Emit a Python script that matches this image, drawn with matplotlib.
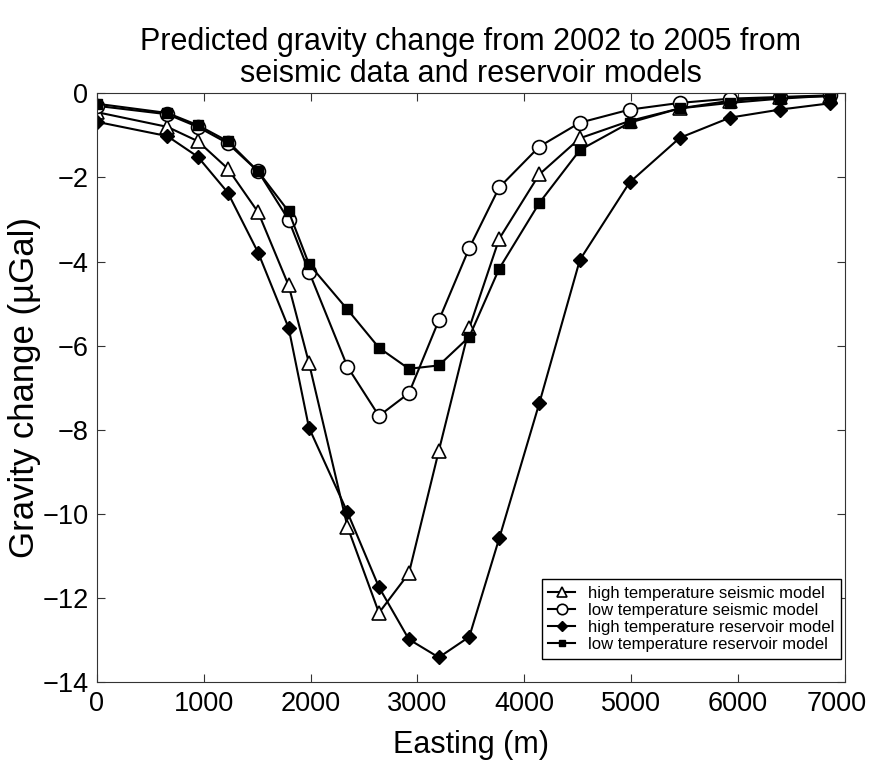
import matplotlib
matplotlib.use('Agg')
import matplotlib.pyplot as plt
from matplotlib.transforms import ScaledTranslation

plt.rcParams['font.family'] = ['Liberation Sans', 'DejaVu Sans']

# Easting des stations (m)
easting = [0, 660, 945, 1225, 1510, 1795, 1985, 2345, 2640, 2920,
           3200, 3485, 3765, 4140, 4520, 4985, 5455, 5925, 6390, 6860]

# Variation de gravité (µGal) pour chaque modèle
high_seismic = [-0.45, -0.80, -1.14, -1.79, -2.83, -4.57, -6.41, -10.30, -12.35, -11.41,
                -8.50, -5.58, -3.46, -1.93, -1.07, -0.66, -0.36, -0.18, -0.10, -0.07]
low_seismic = [-0.30, -0.50, -0.80, -1.19, -1.86, -3.01, -4.24, -6.50, -7.67, -7.13,
               -5.40, -3.68, -2.24, -1.27, -0.70, -0.39, -0.23, -0.13, -0.09, -0.05]
high_reservoir = [-0.68, -1.02, -1.51, -2.36, -3.79, -5.58, -7.95, -9.96, -11.74, -12.98,
                  -13.41, -12.92, -10.58, -7.37, -3.96, -2.12, -1.06, -0.58, -0.39, -0.24]
low_reservoir = [-0.25, -0.47, -0.76, -1.14, -1.86, -2.81, -4.06, -5.14, -6.05, -6.55,
                 -6.47, -5.79, -4.17, -2.61, -1.35, -0.70, -0.36, -0.23, -0.13, -0.06]

labels = ['high temperature seismic model', 'low temperature seismic model',
          'high temperature reservoir model', 'low temperature reservoir model']

fig = plt.figure(figsize=(8.72, 7.64), dpi=100)
ax = fig.add_axes([0.111, 0.107, 0.858, 0.771])

ax.plot(easting, high_seismic, color='black', lw=1.5, marker='^', ms=10,
        mfc='white', mec='black', mew=1.2, label=labels[0])
ax.plot(easting, low_seismic, color='black', lw=1.5, marker='o', ms=10,
        mfc='white', mec='black', mew=1.2, label=labels[1])
ax.plot(easting, high_reservoir, color='black', lw=1.5, marker='D', ms=7,
        mfc='black', mec='black', label=labels[2])
ax.plot(easting, low_reservoir, color='black', lw=1.5, marker='s', ms=6.5,
        mfc='black', mec='black', label=labels[3])

ax.set_xlim(0, 7000)
ax.set_ylim(-14, 0)
ax.set_xticks(range(0, 7001, 1000))
ax.set_yticks(range(-14, 1, 2))
ax.tick_params(direction='in', top=True, right=True, labelsize=19.5, length=6,
               pad=6, color='#333333')
for s in ax.spines.values():
    s.set_color('#333333')

# décaler un peu le dernier label pour qu'il reste dans l'image
lab = ax.get_xticklabels()[-1]
lab.set_transform(lab.get_transform() + ScaledTranslation(-6 / 72, 0, fig.dpi_scale_trans))

ax.set_xlabel('Easting (m)', fontsize=22, labelpad=10)
ax.set_ylabel('Gravity change (µGal)', fontsize=25)
ax.yaxis.set_label_coords(-0.074, 0.5)
ax.set_title('Predicted gravity change from 2002 to 2005 from\nseismic data and reservoir models',
             fontsize=22, pad=8, linespacing=1.1)

leg = ax.legend(loc='lower right', fontsize=12, handlelength=1.6, handletextpad=0.8,
                borderpad=0.4, labelspacing=0.12, fancybox=False, framealpha=1,
                bbox_to_anchor=(0.995, 0.04), borderaxespad=0.0)
leg.get_frame().set_edgecolor('black')
for h in leg.legend_handles:
    h.set_markersize(h.get_markersize() * 0.75)

fig.savefig('out.png', dpi=100)
